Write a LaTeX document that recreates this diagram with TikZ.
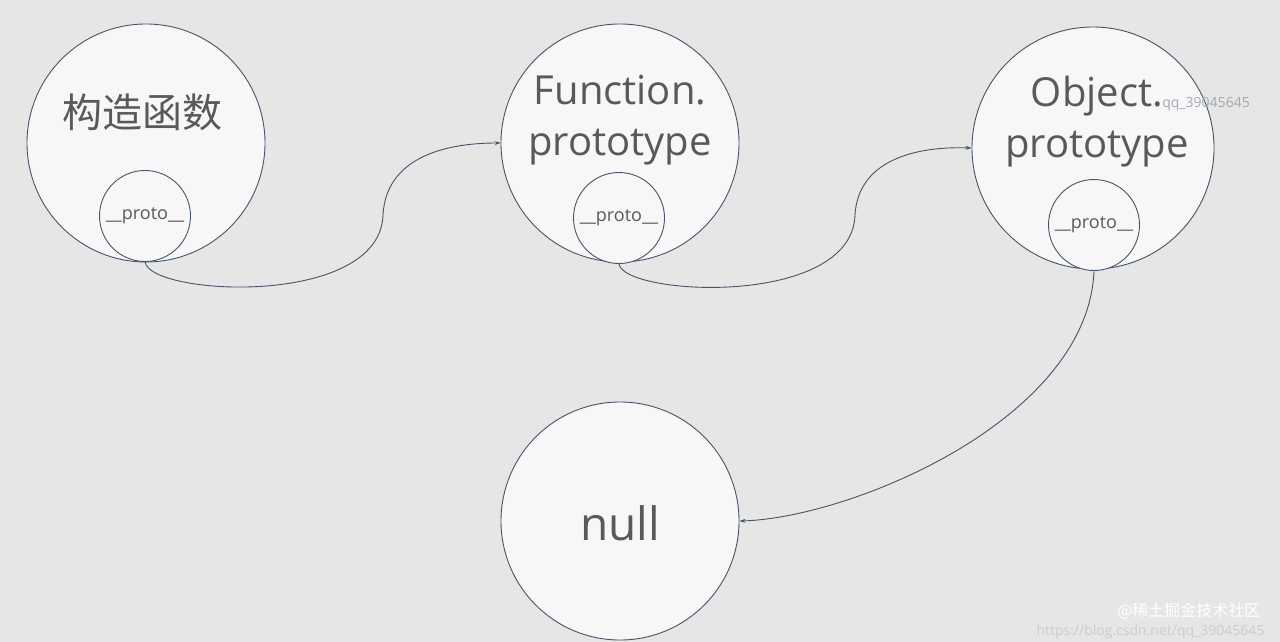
\documentclass[tikz,border=0pt]{standalone}
\usepackage{fontspec}
\setmainfont{Open Sans}
\newfontfamily\cjk{Noto Sans CJK SC}
\usetikzlibrary{arrows.meta}
\definecolor{bg}{HTML}{E6E6E6}
\definecolor{edge}{HTML}{44546A}
\definecolor{txt}{HTML}{595959}
\begin{document}
\begin{tikzpicture}[x=1pt,y=-1pt,
  big/.style={circle,draw=edge,fill=white!97!black,line width=0.9pt,minimum size=238pt,inner sep=0},
  small/.style={circle,draw=edge,fill=white!97!black,line width=0.9pt,minimum size=91pt,inner sep=0,font=\fontsize{18}{20}\selectfont,text=txt},
  lbl/.style={text=txt,font=\fontsize{40}{50}\selectfont,align=center},
  link/.style={draw=edge,line width=0.9pt,-{Stealth[length=6pt,width=4pt]}}]
\fill[bg] (0,0) rectangle (1280,642);
\useasboundingbox (0,0) rectangle (1280,642);
\node[big] (c1) at (146,143) {};
\node[big] (c2) at (620,143) {};
\node[big,minimum size=242pt] (c3) at (1093,148) {};
\node[big] (c4) at (620,521) {};
\node[lbl,font=\cjk\fontsize{40}{48}\selectfont] (t1) at (142,112) {构造函数};
\node[lbl] (t2) at (620,120) {Function.\\[1pt]prototype};
\node[lbl] (t3) at (1097,122) {Object.\\[1pt]prototype};
\node[lbl,font=\fontsize{46}{50}\selectfont] (t4) at (620,523) {null};
\node[small] (p1) at (145,216) {\_\_proto\_\_};
\node[small] (p2) at (619,218) {\_\_proto\_\_};
\node[small] (p3) at (1094,225) {\_\_proto\_\_};
\node[text=edge!50,font=\fontsize{14}{16}\selectfont] (w1) at (1206,104) {qq\_39045645};
\node[text=white,font=\cjk\fontsize{16}{18}\selectfont,anchor=east] (w2) at (1264,611) {@稀土掘金技术社区};
\node[text=white!80!black,font=\fontsize{14}{16}\selectfont,anchor=east] (w3) at (1268,632) {https://blog.csdn.net/qq\_39045645};
\draw[link] (p1.south) .. controls (150,296) and (380,308) .. (383,215)
  .. controls (386,160) and (440,143) .. (c2.west);
\draw[link] (p2.south) .. controls (624,296) and (852,308) .. (855,215)
  .. controls (858,162) and (912,146) .. (c3.west);
\draw[link] (p3.south) .. controls (1088,420) and (850,518) .. (c4.east);
\end{tikzpicture}
\end{document}
